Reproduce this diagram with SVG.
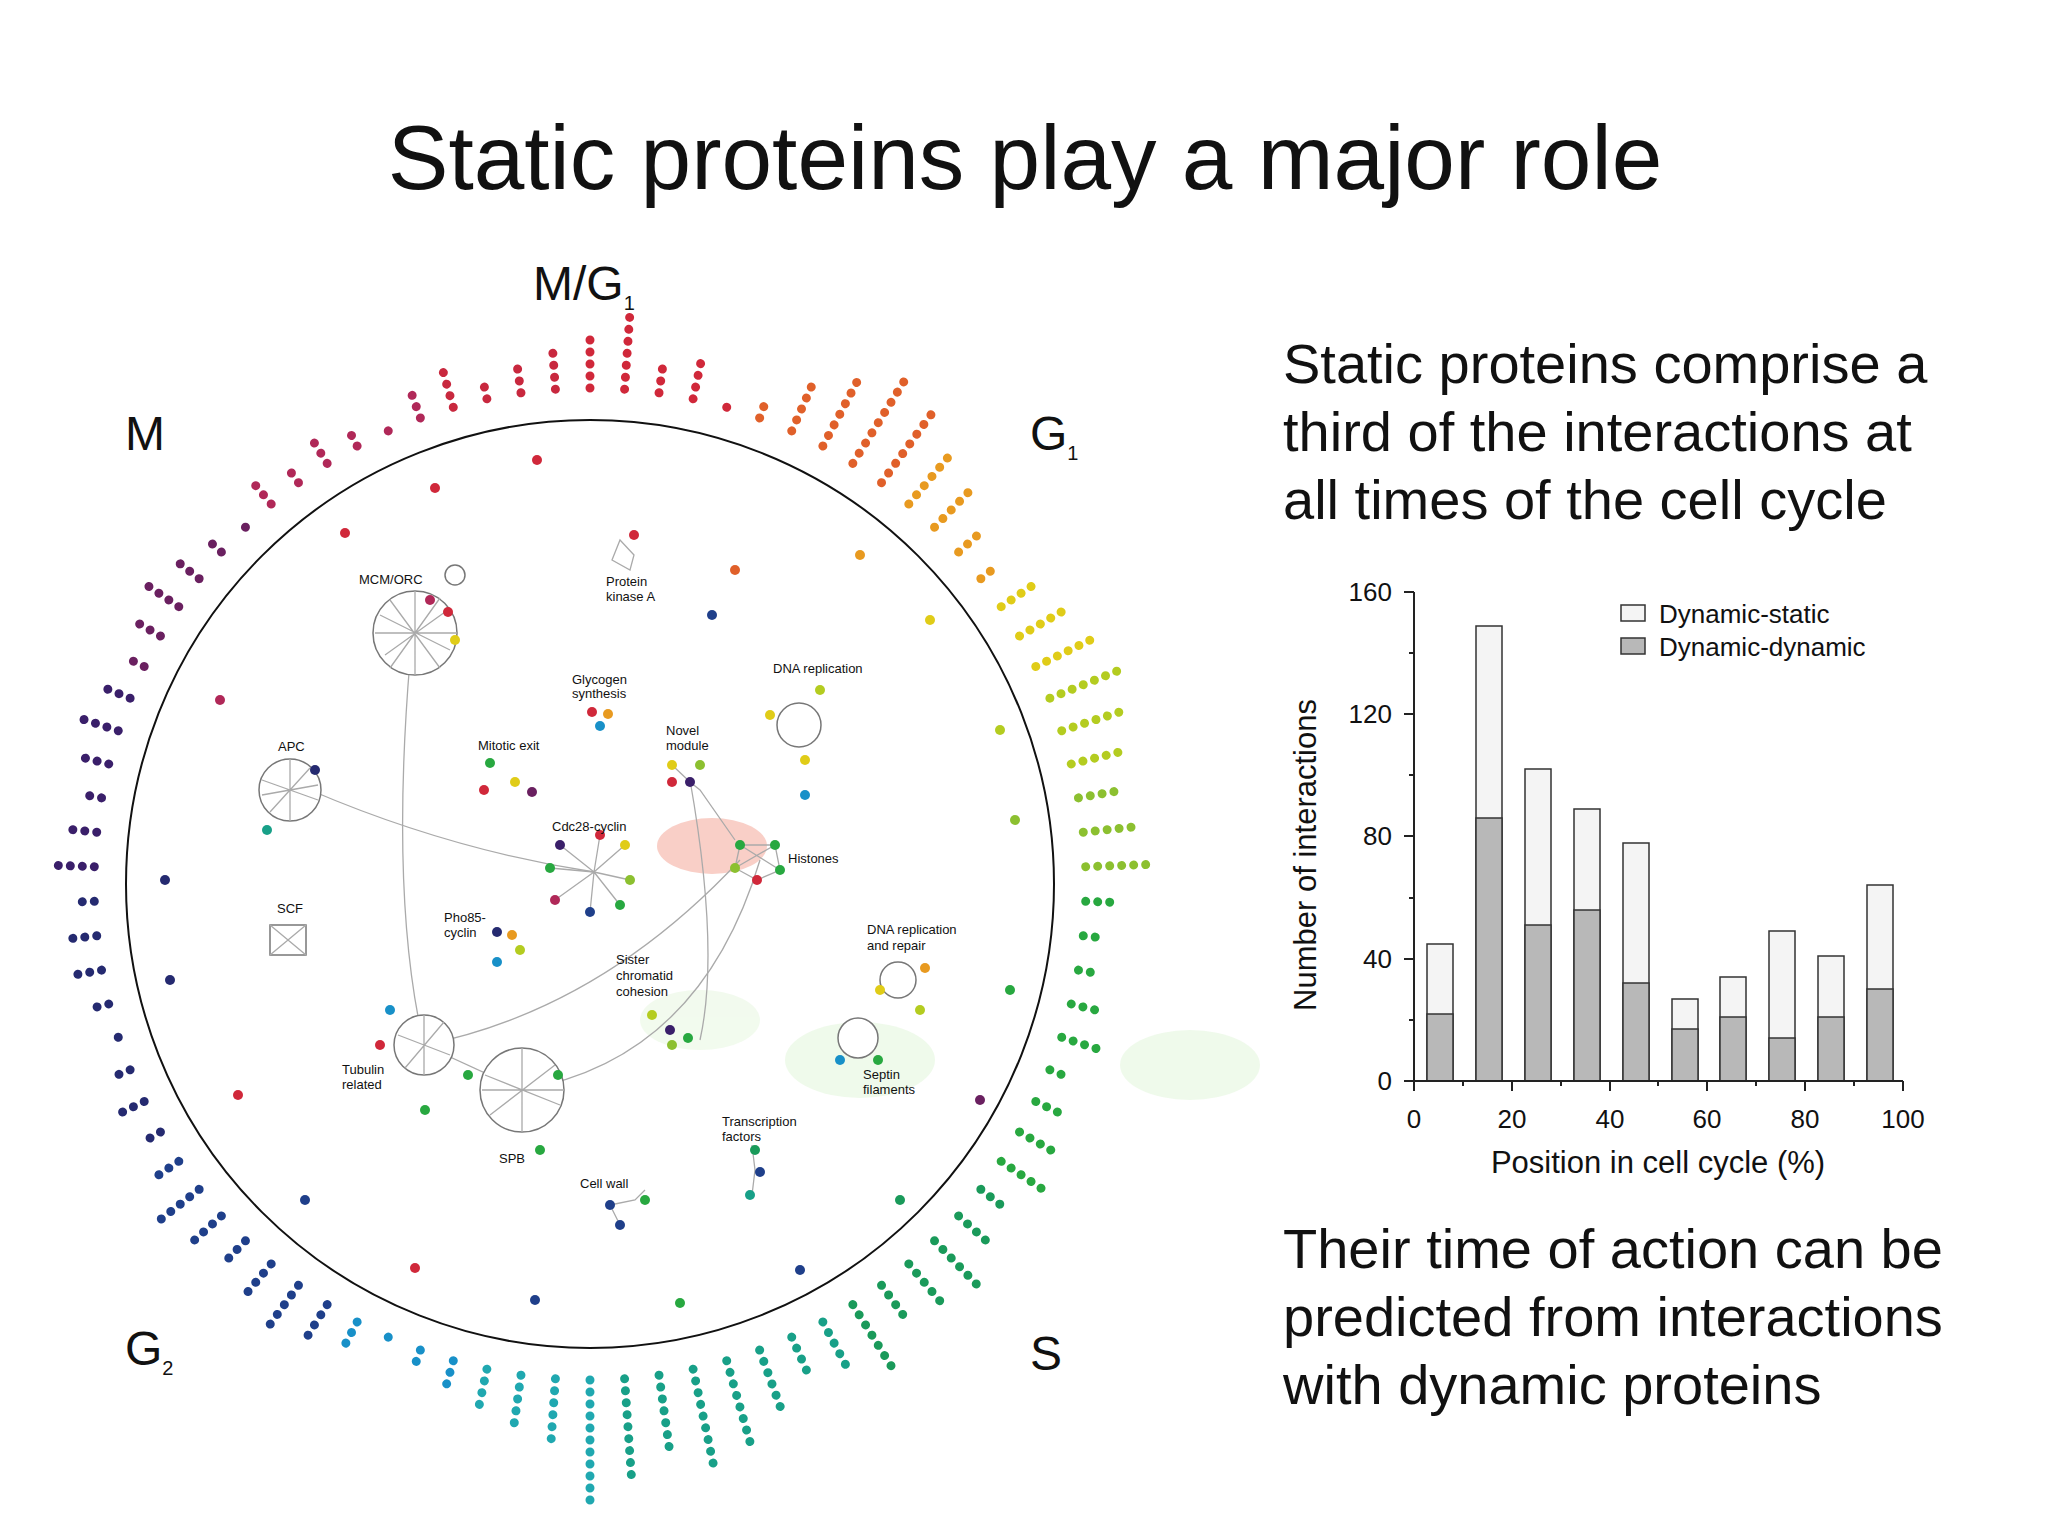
<svg xmlns="http://www.w3.org/2000/svg" width="2048" height="1536" viewBox="0 0 2048 1536">
<style>
text{font-family:"Liberation Sans",Arial,sans-serif;fill:#111}
.sp line{stroke-width:9;stroke-linecap:round;stroke-dasharray:0 12;fill:none}
.lbl{font-size:13px;fill:#333}
.net line,.net path{stroke:#aaa;stroke-width:1.3;fill:none}
.hb{fill:#fff;stroke:#777;stroke-width:1.5}
.tk{font-size:26px}
.bar{stroke:#333;stroke-width:1.5}
</style>
<rect width="2048" height="1536" fill="#fff"/>
<text x="1025" y="189" font-size="91" text-anchor="middle">Static proteins play a major role</text>
<g id="phases" font-size="48">
<text x="533" y="300">M/G<tspan font-size="20" dy="10">1</tspan></text>
<text x="125" y="450">M</text>
<text x="1030" y="450">G<tspan font-size="20" dy="10">1</tspan></text>
<text x="125" y="1365">G<tspan font-size="20" dy="10">2</tspan></text>
<text x="1030" y="1370">S</text>
</g>
<g id="spokes" class="sp" transform="translate(590,884)">
<line y1="-496" y2="-556" transform="rotate(0)" stroke="#d0283a"/>
<line y1="-496" y2="-580" transform="rotate(4)" stroke="#d0283a"/>
<line y1="-496" y2="-532" transform="rotate(8)" stroke="#d0283a"/>
<line y1="-496" y2="-544" transform="rotate(12)" stroke="#d0283a"/>
<line y1="-496" y2="-496" transform="rotate(16)" stroke="#d0283a"/>
<line y1="-496" y2="-520" transform="rotate(20)" stroke="#e0602a"/>
<line y1="-496" y2="-556" transform="rotate(24)" stroke="#e0602a"/>
<line y1="-496" y2="-580" transform="rotate(28)" stroke="#e0602a"/>
<line y1="-496" y2="-604" transform="rotate(32)" stroke="#e0602a"/>
<line y1="-496" y2="-592" transform="rotate(36)" stroke="#e0602a"/>
<line y1="-496" y2="-568" transform="rotate(40)" stroke="#e89a20"/>
<line y1="-496" y2="-556" transform="rotate(44)" stroke="#e89a20"/>
<line y1="-496" y2="-532" transform="rotate(48)" stroke="#e89a20"/>
<line y1="-496" y2="-520" transform="rotate(52)" stroke="#e89a20"/>
<line y1="-496" y2="-544" transform="rotate(56)" stroke="#e0cc18"/>
<line y1="-496" y2="-556" transform="rotate(60)" stroke="#e0cc18"/>
<line y1="-496" y2="-568" transform="rotate(64)" stroke="#e0cc18"/>
<line y1="-496" y2="-580" transform="rotate(68)" stroke="#b4cc20"/>
<line y1="-496" y2="-568" transform="rotate(72)" stroke="#b4cc20"/>
<line y1="-496" y2="-556" transform="rotate(76)" stroke="#b4cc20"/>
<line y1="-496" y2="-544" transform="rotate(80)" stroke="#8cc030"/>
<line y1="-496" y2="-556" transform="rotate(84)" stroke="#8cc030"/>
<line y1="-496" y2="-568" transform="rotate(88)" stroke="#8cc030"/>
<line y1="-496" y2="-532" transform="rotate(92)" stroke="#28a840"/>
<line y1="-496" y2="-520" transform="rotate(96)" stroke="#28a840"/>
<line y1="-496" y2="-520" transform="rotate(100)" stroke="#28a840"/>
<line y1="-496" y2="-532" transform="rotate(104)" stroke="#28a840"/>
<line y1="-496" y2="-544" transform="rotate(108)" stroke="#28a840"/>
<line y1="-496" y2="-520" transform="rotate(112)" stroke="#28a840"/>
<line y1="-496" y2="-532" transform="rotate(116)" stroke="#28a840"/>
<line y1="-496" y2="-544" transform="rotate(120)" stroke="#28a840"/>
<line y1="-496" y2="-556" transform="rotate(124)" stroke="#28a840"/>
<line y1="-496" y2="-532" transform="rotate(128)" stroke="#1a9a5a"/>
<line y1="-496" y2="-544" transform="rotate(132)" stroke="#1a9a5a"/>
<line y1="-496" y2="-568" transform="rotate(136)" stroke="#1a9a5a"/>
<line y1="-496" y2="-556" transform="rotate(140)" stroke="#1a9a5a"/>
<line y1="-496" y2="-544" transform="rotate(144)" stroke="#1a9a5a"/>
<line y1="-496" y2="-580" transform="rotate(148)" stroke="#1a9a5a"/>
<line y1="-496" y2="-556" transform="rotate(152)" stroke="#18a088"/>
<line y1="-496" y2="-544" transform="rotate(156)" stroke="#18a088"/>
<line y1="-496" y2="-568" transform="rotate(160)" stroke="#18a088"/>
<line y1="-496" y2="-592" transform="rotate(164)" stroke="#18a088"/>
<line y1="-496" y2="-604" transform="rotate(168)" stroke="#18a088"/>
<line y1="-496" y2="-580" transform="rotate(172)" stroke="#18a088"/>
<line y1="-496" y2="-604" transform="rotate(176)" stroke="#18a088"/>
<line y1="-496" y2="-628" transform="rotate(180)" stroke="#20a8b0"/>
<line y1="-496" y2="-568" transform="rotate(184)" stroke="#20a8b0"/>
<line y1="-496" y2="-556" transform="rotate(188)" stroke="#20a8b0"/>
<line y1="-496" y2="-544" transform="rotate(192)" stroke="#20a8b0"/>
<line y1="-496" y2="-532" transform="rotate(196)" stroke="#1890c8"/>
<line y1="-496" y2="-520" transform="rotate(200)" stroke="#1890c8"/>
<line y1="-496" y2="-508" transform="rotate(204)" stroke="#1890c8"/>
<line y1="-496" y2="-532" transform="rotate(208)" stroke="#1890c8"/>
<line y1="-496" y2="-544" transform="rotate(212)" stroke="#1f3f8a"/>
<line y1="-496" y2="-556" transform="rotate(216)" stroke="#1f3f8a"/>
<line y1="-496" y2="-544" transform="rotate(220)" stroke="#1f3f8a"/>
<line y1="-496" y2="-532" transform="rotate(224)" stroke="#1f3f8a"/>
<line y1="-496" y2="-544" transform="rotate(228)" stroke="#1f3f8a"/>
<line y1="-496" y2="-556" transform="rotate(232)" stroke="#1f3f8a"/>
<line y1="-496" y2="-532" transform="rotate(236)" stroke="#1f3f8a"/>
<line y1="-496" y2="-520" transform="rotate(240)" stroke="#252a70"/>
<line y1="-496" y2="-532" transform="rotate(244)" stroke="#252a70"/>
<line y1="-496" y2="-520" transform="rotate(248)" stroke="#252a70"/>
<line y1="-496" y2="-508" transform="rotate(252)" stroke="#252a70"/>
<line y1="-496" y2="-520" transform="rotate(256)" stroke="#252a70"/>
<line y1="-496" y2="-532" transform="rotate(260)" stroke="#252a70"/>
<line y1="-496" y2="-532" transform="rotate(264)" stroke="#252a70"/>
<line y1="-496" y2="-520" transform="rotate(268)" stroke="#252a70"/>
<line y1="-496" y2="-544" transform="rotate(272)" stroke="#3a1f6a"/>
<line y1="-496" y2="-532" transform="rotate(276)" stroke="#3a1f6a"/>
<line y1="-496" y2="-520" transform="rotate(280)" stroke="#3a1f6a"/>
<line y1="-496" y2="-532" transform="rotate(284)" stroke="#3a1f6a"/>
<line y1="-496" y2="-544" transform="rotate(288)" stroke="#3a1f6a"/>
<line y1="-496" y2="-532" transform="rotate(292)" stroke="#3a1f6a"/>
<line y1="-496" y2="-520" transform="rotate(296)" stroke="#6a2060"/>
<line y1="-496" y2="-532" transform="rotate(300)" stroke="#6a2060"/>
<line y1="-496" y2="-544" transform="rotate(304)" stroke="#6a2060"/>
<line y1="-496" y2="-532" transform="rotate(308)" stroke="#6a2060"/>
<line y1="-496" y2="-520" transform="rotate(312)" stroke="#6a2060"/>
<line y1="-496" y2="-508" transform="rotate(316)" stroke="#6a2060"/>
<line y1="-496" y2="-532" transform="rotate(320)" stroke="#b02858"/>
<line y1="-496" y2="-520" transform="rotate(324)" stroke="#b02858"/>
<line y1="-496" y2="-532" transform="rotate(328)" stroke="#b02858"/>
<line y1="-496" y2="-520" transform="rotate(332)" stroke="#b02858"/>
<line y1="-496" y2="-508" transform="rotate(336)" stroke="#b02858"/>
<line y1="-496" y2="-532" transform="rotate(340)" stroke="#b02858"/>
<line y1="-496" y2="-544" transform="rotate(344)" stroke="#c8283e"/>
<line y1="-496" y2="-520" transform="rotate(348)" stroke="#c8283e"/>
<line y1="-496" y2="-532" transform="rotate(352)" stroke="#c8283e"/>
<line y1="-496" y2="-544" transform="rotate(356)" stroke="#c8283e"/>
</g>
<circle cx="590" cy="884" r="464" fill="none" stroke="#111" stroke-width="2"/>
<g id="glow" opacity="0.5">
<ellipse cx="712" cy="846" rx="55" ry="28" fill="#f4a090"/>
<ellipse cx="1190" cy="1065" rx="70" ry="35" fill="#dff5d8"/>
<ellipse cx="860" cy="1060" rx="75" ry="38" fill="#dff5d8"/>
<ellipse cx="700" cy="1020" rx="60" ry="30" fill="#e6f7de"/>
</g>
<g id="connectors" class="net">
<path d="M410,660 Q390,900 424,1045"/>
<path d="M310,790 Q450,850 594,872"/>
<path d="M424,1045 Q600,1010 740,860"/>
<path d="M522,1090 Q700,1060 760,860"/>
<path d="M690,780 Q720,950 700,1040"/>
<line x1="424" y1="1045" x2="522" y2="1090"/>
</g>
<g id="clusters" class="net">
<g id="mcm"><circle class="hb" cx="415" cy="633" r="42"/><path d="M380,615 L450,650 M385,655 L445,612 M415,591 L415,675 M375,633 L457,633 M390,600 L440,668 M440,598 L390,668"/></g>
<g id="apc"><circle class="hb" cx="290" cy="790" r="31"/><path d="M262,780 L318,800 M270,812 L310,768 M290,759 L290,821 M262,795 L318,785"/></g>
<g id="spb"><circle class="hb" cx="522" cy="1090" r="42"/><path d="M485,1075 L560,1105 M490,1115 L555,1065 M522,1048 L522,1132 M482,1090 L564,1090"/></g>
<g id="tub"><circle class="hb" cx="424" cy="1045" r="30"/><path d="M398,1035 L450,1055 M405,1068 L444,1022 M424,1015 L424,1075"/></g>
<g id="cdc"><path d="M594,872 L560,845 M594,872 L625,845 M594,872 L630,880 M594,872 L620,905 M594,872 L590,912 M594,872 L555,900 M594,872 L550,868 M594,872 L600,835"/>
<circle cx="560" cy="845" r="5" fill="#3a1f6a"/><circle cx="625" cy="845" r="5" fill="#e0cc18"/><circle cx="630" cy="880" r="5" fill="#8cc030"/><circle cx="620" cy="905" r="5" fill="#28a840"/><circle cx="590" cy="912" r="5" fill="#1f3f8a"/><circle cx="555" cy="900" r="5" fill="#b02858"/><circle cx="550" cy="868" r="5" fill="#28a840"/><circle cx="600" cy="835" r="5" fill="#d0283a"/></g>
<g id="hist"><path d="M740,845 L775,845 L780,870 L757,880 L735,868 Z M740,845 L780,870 M775,845 L735,868"/>
<circle cx="740" cy="845" r="5" fill="#28a840"/><circle cx="775" cy="845" r="5" fill="#28a840"/><circle cx="780" cy="870" r="5" fill="#28a840"/><circle cx="757" cy="880" r="5" fill="#d0283a"/><circle cx="735" cy="868" r="5" fill="#8cc030"/></g>
<g id="dnarep"><circle class="hb" cx="799" cy="725" r="22"/><circle cx="820" cy="690" r="5" fill="#b4cc20"/><circle cx="770" cy="715" r="5" fill="#e0cc18"/><circle cx="805" cy="760" r="5" fill="#e0cc18"/><circle cx="805" cy="795" r="5" fill="#1890c8"/></g>
<g id="dnarr"><circle class="hb" cx="898" cy="980" r="18"/><circle cx="925" cy="968" r="5" fill="#e89a20"/><circle cx="880" cy="990" r="5" fill="#e0cc18"/><circle cx="920" cy="1010" r="5" fill="#b4cc20"/></g>
<g id="septin"><circle class="hb" cx="858" cy="1038" r="20"/><circle cx="840" cy="1060" r="5" fill="#1890c8"/><circle cx="878" cy="1060" r="5" fill="#28a840"/></g>
<g id="scf"><rect x="270" y="925" width="36" height="30" class="hb"/><path d="M270,925 L306,955 M306,925 L270,955"/></g>
<g id="novel"><path d="M672,765 L690,782 L700,790 L735,840"/><circle cx="672" cy="765" r="5" fill="#e0cc18"/><circle cx="690" cy="782" r="5" fill="#3a1f6a"/><circle cx="672" cy="782" r="5" fill="#d0283a"/><circle cx="700" cy="765" r="5" fill="#8cc030"/></g>
<g id="mitexit"><circle cx="490" cy="763" r="5" fill="#28a840"/><circle cx="484" cy="790" r="5" fill="#d0283a"/><circle cx="515" cy="782" r="5" fill="#e0cc18"/><circle cx="532" cy="792" r="5" fill="#6a2060"/></g>
<g id="glyco"><circle cx="592" cy="712" r="5" fill="#d0283a"/><circle cx="608" cy="714" r="5" fill="#e89a20"/><circle cx="600" cy="726" r="5" fill="#1890c8"/></g>
<g id="pka"><path d="M620,540 L634,555 L630,570 L612,560 Z"/><circle cx="634" cy="535" r="5" fill="#d0283a"/></g>
<g id="pho"><circle cx="497" cy="932" r="5" fill="#252a70"/><circle cx="512" cy="935" r="5" fill="#e89a20"/><circle cx="520" cy="950" r="5" fill="#b4cc20"/><circle cx="497" cy="962" r="5" fill="#1890c8"/></g>
<g id="sister"><circle cx="652" cy="1015" r="5" fill="#b4cc20"/><circle cx="670" cy="1030" r="5" fill="#3a1f6a"/><circle cx="688" cy="1038" r="5" fill="#28a840"/><circle cx="672" cy="1045" r="5" fill="#8cc030"/></g>
<g id="tf"><path d="M752,1145 L755,1170 L752,1195"/><circle cx="755" cy="1150" r="5" fill="#1a9a5a"/><circle cx="760" cy="1172" r="5" fill="#1f3f8a"/><circle cx="750" cy="1195" r="5" fill="#18a088"/></g>
<g id="cellwall"><path d="M610,1205 L635,1200 L645,1190 M610,1205 L620,1225"/><circle cx="610" cy="1205" r="5" fill="#1f3f8a"/><circle cx="645" cy="1200" r="5" fill="#28a840"/><circle cx="620" cy="1225" r="5" fill="#1f3f8a"/></g>
<g id="spbdots"><circle cx="540" cy="1150" r="5" fill="#28a840"/><circle cx="468" cy="1075" r="5" fill="#28a840"/><circle cx="425" cy="1110" r="5" fill="#28a840"/><circle cx="390" cy="1010" r="5" fill="#1890c8"/><circle cx="380" cy="1045" r="5" fill="#d0283a"/><circle cx="558" cy="1075" r="5" fill="#28a840"/></g>
<g id="mcmdots"><circle cx="448" cy="612" r="5" fill="#d0283a"/><circle cx="455" cy="640" r="5" fill="#e0cc18"/><circle cx="430" cy="600" r="5" fill="#b02858"/><circle cx="455" cy="575" r="10" class="hb"/></g>
<g id="apcdots"><circle cx="315" cy="770" r="5" fill="#252a70"/><circle cx="267" cy="830" r="5" fill="#18a088"/></g>
<g id="rim"><circle cx="537" cy="460" r="5" fill="#d0283a"/><circle cx="435" cy="488" r="5" fill="#d0283a"/><circle cx="345" cy="533" r="5" fill="#d0283a"/><circle cx="220" cy="700" r="5" fill="#b02858"/><circle cx="165" cy="880" r="5" fill="#252a70"/><circle cx="170" cy="980" r="5" fill="#252a70"/><circle cx="238" cy="1095" r="5" fill="#d0283a"/><circle cx="305" cy="1200" r="5" fill="#1f3f8a"/><circle cx="415" cy="1268" r="5" fill="#d0283a"/><circle cx="535" cy="1300" r="5" fill="#1f3f8a"/><circle cx="680" cy="1303" r="5" fill="#28a840"/><circle cx="800" cy="1270" r="5" fill="#1f3f8a"/><circle cx="900" cy="1200" r="5" fill="#1a9a5a"/><circle cx="980" cy="1100" r="5" fill="#6a2060"/><circle cx="1010" cy="990" r="5" fill="#28a840"/><circle cx="1015" cy="820" r="5" fill="#8cc030"/><circle cx="1000" cy="730" r="5" fill="#b4cc20"/><circle cx="930" cy="620" r="5" fill="#e0cc18"/><circle cx="860" cy="555" r="5" fill="#e89a20"/><circle cx="735" cy="570" r="5" fill="#e0602a"/><circle cx="712" cy="615" r="5" fill="#1f3f8a"/></g>
</g>
<g id="netlabels" class="lbl">
<text x="359" y="584">MCM/ORC</text>
<text x="606" y="586">Protein</text><text x="606" y="601">kinase A</text>
<text x="572" y="684">Glycogen</text><text x="572" y="698">synthesis</text>
<text x="773" y="673">DNA replication</text>
<text x="666" y="735">Novel</text><text x="666" y="750">module</text>
<text x="478" y="750">Mitotic exit</text>
<text x="278" y="751">APC</text>
<text x="552" y="831">Cdc28-cyclin</text>
<text x="788" y="863">Histones</text>
<text x="277" y="913">SCF</text>
<text x="444" y="922">Pho85-</text><text x="444" y="937">cyclin</text>
<text x="867" y="934">DNA replication</text><text x="867" y="950">and repair</text>
<text x="616" y="964">Sister</text><text x="616" y="980">chromatid</text><text x="616" y="996">cohesion</text>
<text x="342" y="1074">Tubulin</text><text x="342" y="1089">related</text>
<text x="863" y="1079">Septin</text><text x="863" y="1094">filaments</text>
<text x="722" y="1126">Transcription</text><text x="722" y="1141">factors</text>
<text x="499" y="1163">SPB</text>
<text x="580" y="1188">Cell wall</text>
</g>
<g id="righttext" font-size="56">
<text x="1283" y="383">Static proteins comprise a</text>
<text x="1283" y="451">third of the interactions at</text>
<text x="1283" y="519">all times of the cell cycle</text>
<text x="1283" y="1268">Their time of action can be</text>
<text x="1283" y="1336">predicted from interactions</text>
<text x="1283" y="1404">with dynamic proteins</text>
</g>
<g id="chart">
<g fill="#f4f4f4" class="bar">
<rect x="1427" y="944" width="26" height="137"/>
<rect x="1476" y="626" width="26" height="455"/>
<rect x="1525" y="769" width="26" height="312"/>
<rect x="1574" y="809" width="26" height="272"/>
<rect x="1623" y="843" width="26" height="238"/>
<rect x="1672" y="999" width="26" height="82"/>
<rect x="1720" y="977" width="26" height="104"/>
<rect x="1769" y="931" width="26" height="150"/>
<rect x="1818" y="956" width="26" height="125"/>
<rect x="1867" y="885" width="26" height="196"/>
</g>
<g fill="#b8b8b8" class="bar">
<rect x="1427" y="1014" width="26" height="67"/>
<rect x="1476" y="818" width="26" height="263"/>
<rect x="1525" y="925" width="26" height="156"/>
<rect x="1574" y="910" width="26" height="171"/>
<rect x="1623" y="983" width="26" height="98"/>
<rect x="1672" y="1029" width="26" height="52"/>
<rect x="1720" y="1017" width="26" height="64"/>
<rect x="1769" y="1038" width="26" height="43"/>
<rect x="1818" y="1017" width="26" height="64"/>
<rect x="1867" y="989" width="26" height="92"/>
</g>
<path d="M1414,592 V1081 H1903" fill="none" stroke="#222" stroke-width="2"/>
<path d="M1404,592 H1414 M1404,714 H1414 M1404,836 H1414 M1404,959 H1414 M1404,1081 H1414 M1409,653 H1414 M1409,775 H1414 M1409,898 H1414 M1409,1020 H1414 M1414,1081 V1091 M1512,1081 V1091 M1610,1081 V1091 M1707,1081 V1091 M1805,1081 V1091 M1903,1081 V1091 M1463,1081 V1086 M1561,1081 V1086 M1658,1081 V1086 M1756,1081 V1086 M1854,1081 V1086" stroke="#222" stroke-width="2"/>
<g class="tk" text-anchor="end">
<text x="1392" y="601">160</text><text x="1392" y="723">120</text><text x="1392" y="845">80</text><text x="1392" y="968">40</text><text x="1392" y="1090">0</text>
</g>
<g class="tk" text-anchor="middle">
<text x="1414" y="1128">0</text><text x="1512" y="1128">20</text><text x="1610" y="1128">40</text><text x="1707" y="1128">60</text><text x="1805" y="1128">80</text><text x="1903" y="1128">100</text>
</g>
<text x="1658" y="1173" font-size="31" text-anchor="middle">Position in cell cycle (%)</text>
<text transform="translate(1316,855) rotate(-90)" font-size="31" text-anchor="middle">Number of interactions</text>
<rect x="1621" y="605" width="24" height="16" fill="#f4f4f4" class="bar"/>
<rect x="1621" y="638" width="24" height="16" fill="#b8b8b8" class="bar"/>
<text x="1659" y="623" font-size="26">Dynamic-static</text>
<text x="1659" y="656" font-size="26">Dynamic-dynamic</text>
</g>
</svg>
